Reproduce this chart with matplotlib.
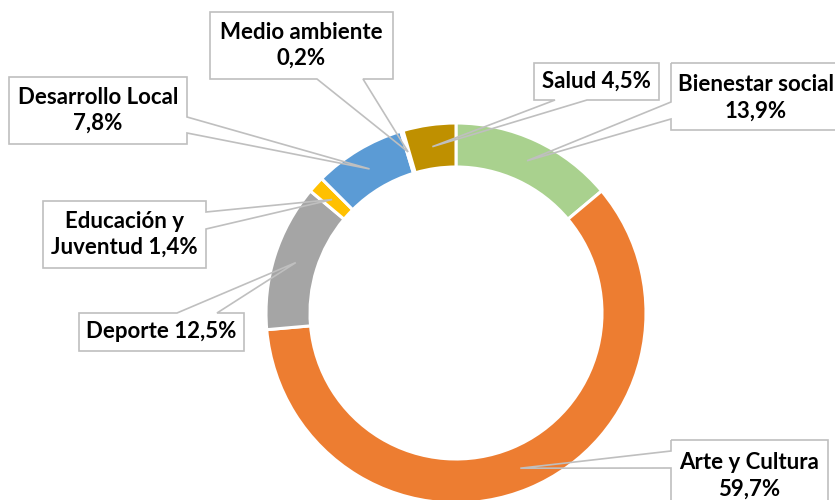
import numpy as np
import matplotlib
matplotlib.use("Agg")
import matplotlib.pyplot as plt
from matplotlib.patches import Polygon

# ---- data ----
categories = ["Bienestar social", "Arte y Cultura", "Deporte", "Educación y Juventud",
              "Desarrollo Local", "Medio ambiente", "Salud"]
values = [13.9, 59.7, 12.5, 1.4, 7.8, 0.2, 4.5]
label_texts = ["Bienestar social\n13,9%", "Arte y Cultura\n59,7%", "Deporte 12,5%",
               "Educación y\nJuventud 1,4%", "Desarrollo Local\n7,8%",
               "Medio ambiente\n0,2%", "Salud 4,5%"]
colors = ["#A9D18E", "#ED7D31", "#A5A5A5", "#FFC000", "#5B9BD5", "#70AD47", "#BF9000"]

# ---- layout (pixel coords, y measured from top) ----
W, H = 835, 500
CX, CY, R, RW = 456, 313, 190, 44
# box (x0, y0, x1, y1), side of pointer, pointer base (a, b)
boxes = {
    "Bienestar social": ((671, 63, 847, 130), "left", (102, 119)),
    "Arte y Cultura": ((671, 440, 828, 520), "left", (451, 468)),
    "Deporte": ((79, 313, 244, 351), "top", (177, 217)),
    "Educación y Juventud": ((43, 201, 206, 268), "right", (212, 229)),
    "Desarrollo Local": ((9, 77, 187, 144), "right", (117, 133)),
    "Medio ambiente": ((210, 12, 393, 79), "bottom", (317, 363)),
    "Salud": ((534, 63, 659, 100), "bottom", (555, 587)),
}
text_centers = {
    "Bienestar social": (756, 98),
    "Arte y Cultura": (749, 476),
}

fig = plt.figure(figsize=(W / 100, H / 100), dpi=100)
ax = fig.add_axes([0, 0, 1, 1])
wedges, _ = ax.pie(values, colors=colors, startangle=90, counterclock=False,
                   center=(CX, H - CY), radius=R,
                   wedgeprops=dict(width=RW, edgecolor="white", linewidth=2.2))
for w in wedges:
    w.set_zorder(2)
ax.set_xlim(0, W)
ax.set_ylim(0, H)
ax.set_aspect("equal")
ax.axis("off")

GRAY = "#BFBFBF"
rmid = R - RW / 2
for cat, lab, w in zip(categories, label_texts, wedges):
    box, side, (a, b) = boxes[cat]
    ang = np.deg2rad((w.theta1 + w.theta2) / 2)
    tx = CX + rmid * np.cos(ang)
    ty = CY - rmid * np.sin(ang)
    x0, y0, x1, y1 = box
    tip = (tx, ty)
    pts = [(x0, y0)]
    if side == "top":
        pts += [(a, y0), tip, (b, y0)]
    pts += [(x1, y0)]
    if side == "right":
        pts += [(x1, a), tip, (x1, b)]
    pts += [(x1, y1)]
    if side == "bottom":
        pts += [(b, y1), tip, (a, y1)]
    pts += [(x0, y1)]
    if side == "left":
        pts += [(x0, b), tip, (x0, a)]
    pts = [(px, H - py) for px, py in pts]
    ax.add_patch(Polygon(pts, closed=True, facecolor="white", edgecolor="none", zorder=1))
    ax.add_patch(Polygon(pts, closed=True, fill=False, edgecolor=GRAY, linewidth=1.2,
                         zorder=3, joinstyle="miter"))
    if cat in text_centers:
        cx, cy = text_centers[cat]
    else:
        cx, cy = (x0 + x1) / 2, (y0 + y1) / 2
    ax.text(cx, H - cy, lab, ha="center", va="center", fontsize=16,
            fontweight="bold", family=["Lato", "DejaVu Sans"], color="black",
            linespacing=1.3, zorder=4)

fig.savefig("out.png", dpi=100, facecolor="white")
